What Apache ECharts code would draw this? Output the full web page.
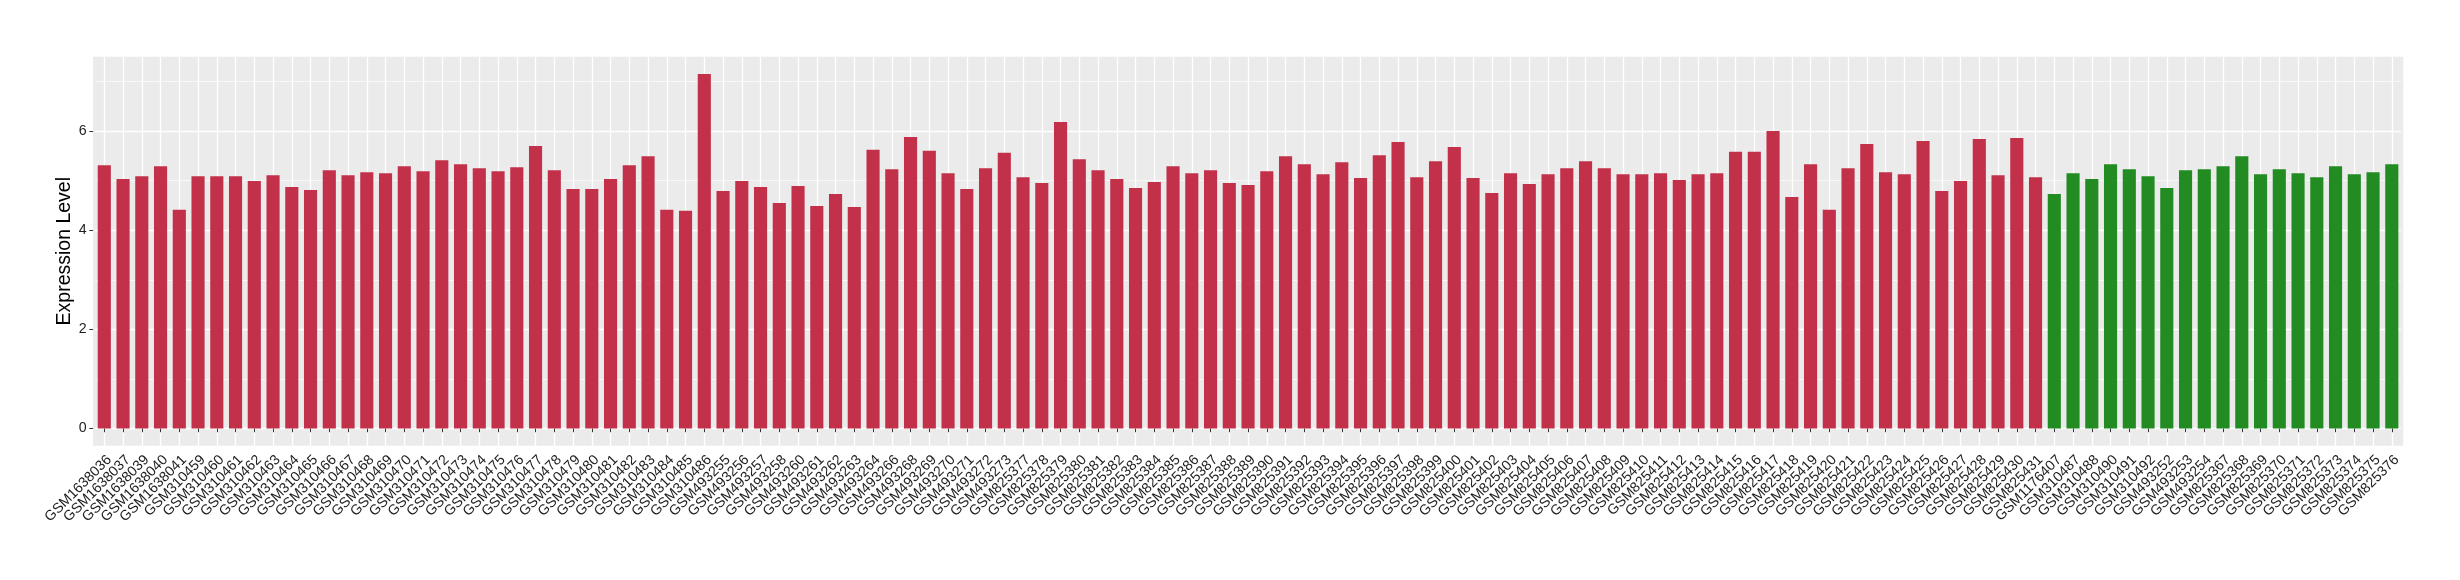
<!DOCTYPE html>
<html><head><meta charset="utf-8">
<script src="https://cdn.jsdelivr.net/npm/echarts@6/dist/echarts.min.js"></script>
<style>html,body{margin:0;padding:0;background:#fff}#c{width:2460px;height:580px}</style>
</head><body><div id="c"></div>
<script>
const redSamples = [
  'GSM1638036','GSM1638037','GSM1638039','GSM1638040','GSM1638041',
  'GSM310459','GSM310460','GSM310461','GSM310462','GSM310463','GSM310464','GSM310465','GSM310466','GSM310467','GSM310468',
  'GSM310469','GSM310470','GSM310471','GSM310472','GSM310473','GSM310474','GSM310475','GSM310476','GSM310477','GSM310478',
  'GSM310479','GSM310480','GSM310481','GSM310482','GSM310483','GSM310484','GSM310485','GSM310486',
  'GSM493255','GSM493256','GSM493257','GSM493258','GSM493260','GSM493261','GSM493262','GSM493263','GSM493264','GSM493266',
  'GSM493268','GSM493269','GSM493270','GSM493271','GSM493272','GSM493273',
  'GSM825377','GSM825378','GSM825379','GSM825380','GSM825381','GSM825382','GSM825383','GSM825384','GSM825385','GSM825386',
  'GSM825387','GSM825388','GSM825389','GSM825390','GSM825391','GSM825392','GSM825393','GSM825394','GSM825395','GSM825396',
  'GSM825397','GSM825398','GSM825399','GSM825400','GSM825401','GSM825402','GSM825403','GSM825404','GSM825405','GSM825406',
  'GSM825407','GSM825408','GSM825409','GSM825410','GSM825411','GSM825412','GSM825413','GSM825414','GSM825415','GSM825416',
  'GSM825417','GSM825418','GSM825419','GSM825420','GSM825421','GSM825422','GSM825423','GSM825424','GSM825425','GSM825426',
  'GSM825427','GSM825428','GSM825429','GSM825430','GSM825431'
];
const redValues = [
  5.31, 5.03, 5.09, 5.29, 4.41,
  5.09, 5.09, 5.09, 4.99, 5.11, 4.87, 4.81, 5.21, 5.11, 5.17,
  5.15, 5.29, 5.19, 5.41, 5.33, 5.25, 5.19, 5.27, 5.70, 5.21,
  4.83, 4.83, 5.03, 5.31, 5.49, 4.41, 4.39, 7.15,
  4.79, 4.99, 4.87, 4.55, 4.89, 4.49, 4.73, 4.47, 5.62, 5.23,
  5.88, 5.60, 5.15, 4.83, 5.25, 5.56,
  5.07, 4.95, 6.18, 5.43, 5.21, 5.03, 4.85, 4.97, 5.29, 5.15,
  5.21, 4.95, 4.91, 5.19, 5.49, 5.33, 5.13, 5.37, 5.05, 5.51,
  5.78, 5.07, 5.39, 5.68, 5.05, 4.75, 5.15, 4.93, 5.13, 5.25,
  5.39, 5.25, 5.13, 5.13, 5.15, 5.01, 5.13, 5.15, 5.58, 5.58,
  6.00, 4.67, 5.33, 4.41, 5.25, 5.74, 5.17, 5.13, 5.80, 4.79,
  4.99, 5.84, 5.11, 5.86, 5.07
];
const greenSamples = [
  'GSM1176407','GSM310487','GSM310488','GSM310490','GSM310491','GSM310492','GSM493252','GSM493253','GSM493254',
  'GSM825367','GSM825368','GSM825369','GSM825370','GSM825371','GSM825372','GSM825373','GSM825374','GSM825375','GSM825376'
];
const greenValues = [
  4.73, 5.15, 5.03, 5.33, 5.23, 5.09, 4.85, 5.21, 5.23,
  5.29, 5.49, 5.13, 5.23, 5.15, 5.07, 5.29, 5.13, 5.17, 5.33
];
const yTickValues = [0, 2, 4, 6];
const yTitle = 'Expression Level';

const categories = redSamples.concat(greenSamples);
const redData = redValues.concat(greenSamples.map(() => null));
const greenData = redSamples.map(() => null).concat(greenValues);

const FONT = '"Liberation Sans", Arial, Helvetica, sans-serif';
const W = 2460, H = 580;
// panel geometry (pixels)
const pL = 93.05, pR = 2403.3, pT = 56.7, pB = 445.7;
const c0 = 104.3, step = 18.75, n = categories.length;
const cLast = c0 + (n - 1) * step;
const y0 = 428.5, unit = 49.58;

const chart = echarts.init(document.getElementById('c'), null, {renderer: 'canvas'});
chart.setOption({
  animation: false,
  backgroundColor: '#FFFFFF',
  grid: [
    {left: pL, right: W - pR, top: pT, bottom: H - pB, show: true, backgroundColor: '#EBEBEB', borderWidth: 0, z: 0},
    {left: c0 - step / 2, right: W - (cLast + step / 2), top: y0 - 7 * unit, bottom: H - y0, z: 1},
    {left: c0, right: W - cLast, top: pT, bottom: H - pB, z: 1},
    {left: pL, right: W - pR, top: y0 - 6 * unit, bottom: H - y0, z: 1}
  ],
  xAxis: [
    {gridIndex: 0, type: 'value', min: 0, max: 1, show: false},
    {gridIndex: 1, type: 'category', data: categories, offset: pB - y0, z: 3,
      axisLine: {show: false},
      axisTick: {show: true, alignWithLabel: true, interval: 0, length: 3.7, lineStyle: {color: '#333333', width: 1}},
      axisLabel: {show: true, interval: 0, rotate: 45, margin: 7, fontSize: 14.2, fontFamily: FONT, color: '#1E1E1E', verticalAlign: 'top', align: 'right'},
      splitLine: {show: false}},
    {gridIndex: 2, type: 'category', data: categories, boundaryGap: false, z: 1,
      axisLine: {show: false}, axisTick: {show: false}, axisLabel: {show: false},
      splitLine: {show: true, interval: 0, lineStyle: {color: '#FFFFFF', width: 1.3}}},
    {gridIndex: 3, type: 'value', min: 0, max: 1, show: false}
  ],
  yAxis: [
    {gridIndex: 0, type: 'value', min: 0, max: 1, z: 3,
      axisLine: {show: false}, axisTick: {show: false}, axisLabel: {show: false}, splitLine: {show: false},
      name: yTitle, nameLocation: 'middle', nameGap: 18,
      nameTextStyle: {fontSize: 19.5, fontFamily: FONT, color: '#000000'}},
    {gridIndex: 1, type: 'value', min: 0, max: 7, interval: 1, position: 'right', z: 1,
      axisLine: {show: false}, axisTick: {show: false}, axisLabel: {show: false},
      splitLine: {show: true, lineStyle: {color: '#FFFFFF', width: 0.65}}},
    {gridIndex: 1, type: 'value', min: 0, max: 7, interval: 1, position: 'left', z: 1,
      axisLine: {show: false}, axisTick: {show: false}, axisLabel: {show: false},
      splitLine: {show: true, lineStyle: {color: ['#FFFFFF', 'rgba(255,255,255,0)'], width: 1.3}}},
    {gridIndex: 2, type: 'value', min: 0, max: 1, show: false},
    {gridIndex: 3, type: 'value', min: 0, max: 6, interval: 2, position: 'left', z: 3,
      axisLine: {show: false}, splitLine: {show: false},
      axisTick: {show: true, length: 3.7, lineStyle: {color: '#333333', width: 1}},
      axisLabel: {show: true, margin: 6.5, fontSize: 14.2, fontFamily: FONT, color: '#1E1E1E',
        customValues: yTickValues}}
  ],
  series: [
    {type: 'bar', name: 'red', xAxisIndex: 1, yAxisIndex: 2, data: redData, barWidth: '70%', barGap: '-100%',
      clip: false, z: 5, itemStyle: {color: '#C3304A'}},
    {type: 'bar', name: 'green', xAxisIndex: 1, yAxisIndex: 2, data: greenData, barWidth: '70%', barGap: '-100%',
      clip: false, z: 5, itemStyle: {color: '#228B22'}}
  ]
});
</script>
</body></html>
